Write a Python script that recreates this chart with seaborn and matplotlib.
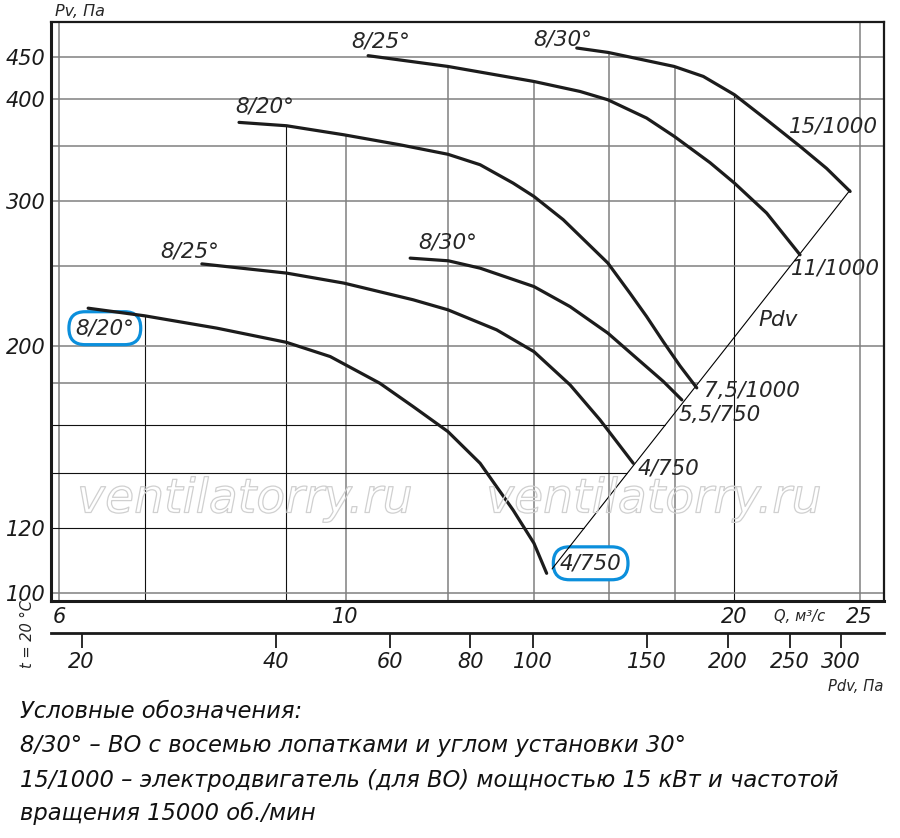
"""Fan performance chart: Pv against Q with dynamic pressure scale."""

import matplotlib

matplotlib.use("Agg")

import matplotlib.patheffects as pe
import matplotlib.pyplot as plt
import numpy as np
import pandas as pd
import seaborn as sns
from matplotlib.ticker import NullLocator

# --- data (Q in m3/s, Pv in Pa) ---------------------------------------------
Q_L820 = [6.32, 6.99, 7.95, 9.00, 9.73, 10.63, 11.28, 12.00, 12.71, 13.48, 13.99, 14.31]
PV_L820 = [222.3, 217.6, 210.2, 202.0, 194.1, 180.1, 168.7, 157.3, 143.9, 126.2, 115.0, 105.7]

Q_L825 = [7.74, 9.00, 9.97, 11.28, 12.00, 13.09, 13.99, 14.92, 15.74, 16.70]
PV_L825 = [251.7, 245.3, 238.5, 227.6, 221.3, 209.2, 196.8, 179.3, 162.5, 143.9]

Q_L830 = [11.22, 12.01, 12.71, 13.99, 14.92, 15.96, 16.80, 17.62, 18.21]
PV_L830 = [255.8, 253.9, 248.7, 236.2, 223.3, 207.3, 193.2, 181.0, 171.9]

Q_U820 = [8.27, 9.00, 9.97, 11.02, 12.00, 12.71, 13.48, 13.99, 14.74, 15.96, 16.60, 17.10,
          17.62, 18.15, 18.70]
PV_U820 = [374.3, 370.8, 361.5, 351.5, 342.3, 332.4, 315.7, 304.1, 284.9, 252.3, 231.9, 217.2,
           202.3, 189.1, 177.8]

Q_U825 = [10.41, 12.00, 13.99, 15.19, 15.96, 17.10, 17.97, 19.15, 20.00, 21.18, 22.48]
PV_U825 = [451.3, 437.9, 419.8, 408.2, 398.8, 378.9, 359.8, 334.3, 315.7, 290.3, 258.2]

Q_U830 = [15.10, 15.97, 17.96, 18.92, 20.00, 21.18, 22.48, 23.57, 24.58]
PV_U830 = [461.1, 455.4, 437.9, 425.8, 404.5, 377.1, 350.0, 329.0, 308.4]

BLADE_LABELS = ["8/20°", "8/25°", "8/30°", "8/20°", "8/25°", "8/30°"]
MOTOR_LABELS = ["4/750", "4/750", "5,5/750", "7,5/1000", "11/1000", "15/1000"]

PDV_COEF = 0.5125  # Pdv = coef * Q^2
PDV_LINE_Q = [14.45, 24.58]

PV_GRID = [100, 120, 140, 160, 180, 200, 250, 300, 350, 400, 450]
PV_TICKS = [100, 120, 200, 300, 400, 450]
Q_GRID = [6, 7, 9, 10, 12, 14, 16, 18, 20, 25]
Q_TICKS = [6, 10, 20, 25]
PDV_TICKS = [20, 40, 60, 80, 100, 150, 200, 250, 300]

NOTES = [
    "Условные обозначения:",
    "8/30° – ВО с восемью лопатками и углом установки 30°",
    "15/1000 – электродвигатель (для ВО) мощностью 15 кВт и частотой",
    "вращения 15000 об./мин",
]

# --- layout / style ---------------------------------------------------------
W, H = 900, 838
AX_BOX = (51, 22, 884, 601)  # left, top, right, bottom in pixels
XLIM = (5.915, 26.11)
YLIM = (97.8, 496.0)
PDV_AXIS_POS = -0.0553
DARK_PV = {120, 140, 160}
DARK_Q = {7, 9, 20}
CLIPPED_PV = {120, 140, 160, 180, 250, 300}
CURVE_COLOR = "#1c1c1c"
GRAY = "#808080"
BLUE = "#0b8fdc"
LABEL_SIZE = 15.5

START_OFFSETS = [(12, -14.4), (-8.6, 8.6), (27.4, 11.5), (18.7, 11.5), (9.4, 10), (-10, 5.8)]
END_OFFSETS = [(31.7, 7.2), (25.2, -3.6), (27.4, -10.8), (39.6, -2.2), (25.2, -10.1), (-12.2, 46.8)]
CIRCLED_START = {0}
CIRCLED_END = {0}


def to_pdv(q):
    return PDV_COEF * np.asarray(q, dtype=float) ** 2


def to_q(p):
    return np.sqrt(np.maximum(np.asarray(p, dtype=float), 1e-9) / PDV_COEF)


def top_of_curves(q, curves):
    """Highest curve value at q (log-log interpolation), or None."""
    best = None
    for qs, pvs in curves:
        if qs[0] <= q <= qs[-1]:
            v = np.exp(np.interp(np.log(q), np.log(qs), np.log(pvs)))
            best = v if best is None else max(best, v)
    return best


def main() -> None:
    sns.set_theme(style="white")
    plt.rcParams["font.family"] = ["DejaVu Sans"]
    plt.rcParams["font.style"] = "italic"

    curves = [
        (Q_L820, PV_L820),
        (Q_L825, PV_L825),
        (Q_L830, PV_L830),
        (Q_U820, PV_U820),
        (Q_U825, PV_U825),
        (Q_U830, PV_U830),
    ]
    frame = pd.concat(
        [pd.DataFrame({"curve": i, "Q": qs, "Pv": pvs}) for i, (qs, pvs) in enumerate(curves)],
        ignore_index=True,
    )

    fig = plt.figure(figsize=(W / 100, H / 100), dpi=100)
    l, t, r, b = AX_BOX
    ax = fig.add_axes([l / W, 1 - b / H, (r - l) / W, (b - t) / H])
    ax.set_xscale("log")
    ax.set_yscale("log")
    ax.set_xlim(*XLIM)
    ax.set_ylim(*YLIM)
    ax.grid(False)

    # grid: vertical lines stop at the top curve, low horizontal ones at Pdv
    ymin, ymax = YLIM
    for q in Q_GRID:
        top = top_of_curves(q, curves)
        top = ymax if top is None else top
        dark = q in DARK_Q
        ax.vlines(q, ymin, top, colors="#111111" if dark else GRAY,
                  linewidth=0.8 if dark else 1.1, zorder=1)
    for pv in PV_GRID:
        right = to_q(pv) if pv in CLIPPED_PV else XLIM[1]
        dark = pv in DARK_PV
        ax.hlines(pv, XLIM[0], right, colors="#111111" if dark else GRAY,
                  linewidth=0.8 if dark else 1.1, zorder=1)

    sns.lineplot(data=frame, x="Q", y="Pv", units="curve", estimator=None, sort=False,
                 color=CURVE_COLOR, linewidth=2.3, ax=ax, legend=False, zorder=5,
                 solid_joinstyle="round")
    sns.lineplot(x=PDV_LINE_Q, y=to_pdv(PDV_LINE_Q), color="black", linewidth=0.8,
                 ax=ax, zorder=4)

    box = dict(boxstyle="round,pad=0.3,rounding_size=0.75", fc="white", ec=BLUE, lw=2.3)
    for i, (qs, pvs) in enumerate(curves):
        ax.annotate(BLADE_LABELS[i], xy=(qs[0], pvs[0]), xytext=START_OFFSETS[i],
                    textcoords="offset points", ha="center", va="center",
                    fontsize=LABEL_SIZE, zorder=3,
                    bbox=box if i in CIRCLED_START else None)
        ax.annotate(MOTOR_LABELS[i], xy=(qs[-1], pvs[-1]), xytext=END_OFFSETS[i],
                    textcoords="offset points", ha="center", va="center",
                    fontsize=LABEL_SIZE, zorder=3,
                    bbox=box if i in CIRCLED_END else None)
    ax.text(21.6, 215, "Pdv", ha="center", va="center", fontsize=LABEL_SIZE)

    ax.set_xticks(Q_TICKS, labels=[str(v) for v in Q_TICKS])
    ax.set_yticks(PV_TICKS, labels=[str(v) for v in PV_TICKS])
    ax.xaxis.set_minor_locator(NullLocator())
    ax.yaxis.set_minor_locator(NullLocator())
    ax.tick_params(axis="both", length=0, labelsize=15, colors="#1a1a1a")
    ax.tick_params(axis="x", pad=4)
    ax.tick_params(axis="y", pad=4)
    ax.set_xlabel("")
    ax.set_ylabel("")
    for side, spine in ax.spines.items():
        spine.set_visible(True)
        spine.set_color("#1a1a1a")
        spine.set_linewidth(2.2 if side in ("left", "bottom") else 1.6)

    sec = ax.secondary_xaxis(PDV_AXIS_POS, functions=(to_pdv, to_q))
    sec.set_xticks(PDV_TICKS, labels=[str(v) for v in PDV_TICKS])
    sec.xaxis.set_minor_locator(NullLocator())
    sec.tick_params(axis="x", direction="out", length=11, width=1.3, pad=3,
                    labelsize=15, colors="#1a1a1a")
    sec.spines["bottom"].set_linewidth(2.0)
    sec.spines["bottom"].set_color("#1a1a1a")

    # watermark (hollow outline text)
    for cx in (245, 654):
        fig.text(cx / W, 1 - 500 / H, "ventilatorry.ru", ha="center", va="center",
                 fontsize=34, color="none", zorder=0,
                 path_effects=[pe.Stroke(linewidth=0.9, foreground="#d0d0d0")])

    fig.text(55 / W, 1 - 12 / H, "Pv, Па", ha="left", va="center", fontsize=11.5)
    fig.text(800 / W, 1 - 616 / H, "Q, м³/с", ha="center", va="center", fontsize=10.6)
    fig.text(883 / W, 1 - 686 / H, "Pdv, Па", ha="right", va="center", fontsize=10.6)
    fig.text(27 / W, 1 - 634 / H, "t = 20 °C", ha="center", va="center",
             rotation=90, fontsize=10.5)

    for line, y in zip(NOTES, (718, 752, 787, 820)):
        fig.text(20 / W, 1 - y / H, line, ha="left", va="baseline", fontsize=16.3,
                 color="#111111")

    fig.savefig("out.png", dpi=100)
    plt.close(fig)


if __name__ == "__main__":
    main()
